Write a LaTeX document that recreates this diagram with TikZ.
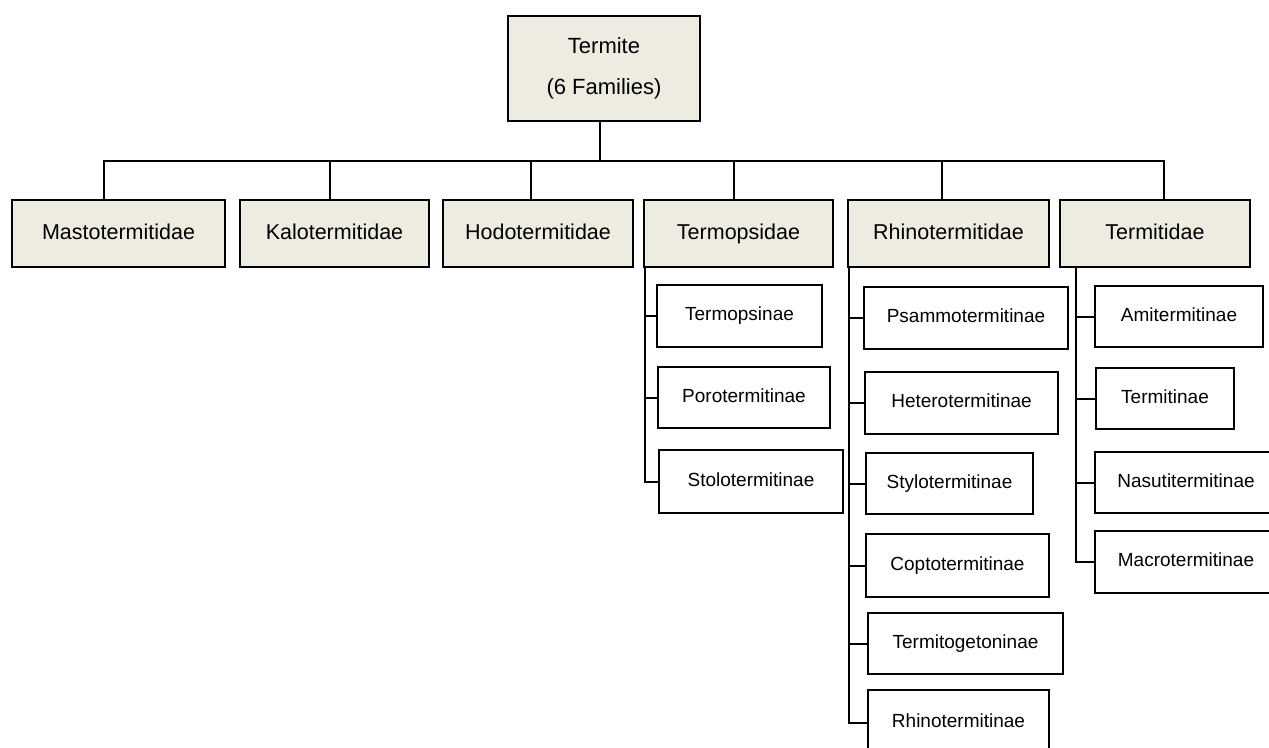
\documentclass[tikz,border=0pt]{standalone}
\usepackage{fontspec}
\setmainfont{Liberation Sans}
\usepackage{xcolor}
\usetikzlibrary{positioning}

\definecolor{famfill}{HTML}{EEECE1}

\begin{document}
\begin{tikzpicture}[
  x=1pt, y=-1pt,
  line width=2pt,
  fam/.style={draw, fill=famfill, anchor=north west, inner sep=0pt,
              text height=15.5pt, text depth=4.5pt,
              font=\fontsize{21.5}{26}\selectfont, minimum height=67pt},
  top/.style={draw, fill=famfill, anchor=north west, inner sep=0pt, align=center,
              font=\fontsize{22}{41}\selectfont, minimum width=192pt, minimum height=105pt},
  sub/.style={draw, fill=white, anchor=north west, inner sep=0pt,
              text height=13.5pt, text depth=4pt,
              font=\fontsize{19}{23}\selectfont, minimum height=62pt},
]
\useasboundingbox (0,0) rectangle (1269,747);
\clip (0,0) rectangle (1269,747);

% root and the six families
\node[top] (root) at (507,15) {Termite\\(6 Families)};
\node[fam, minimum width=213pt] (masto) at (11,199) {Mastotermitidae};
\node[fam, minimum width=189pt] (kalo) at (239,199) {Kalotermitidae};
\node[fam, minimum width=190pt] (hodo) at (442,199) {Hodotermitidae};
\node[fam, minimum width=189pt] (termops) at (643,199) {Termopsidae};
\node[fam, minimum width=201pt] (rhino) at (847,199) {Rhinotermitidae};
\node[fam, minimum width=190pt] (termit) at (1059,199) {Termitidae};

% subfamilies
\node[sub, minimum width=165pt] (termopsinae) at (656,284) {Termopsinae};
\node[sub, minimum width=172pt, minimum height=61pt] (poro) at (657,366) {Porotermitinae};
\node[sub, minimum width=184pt, minimum height=63pt] (stolo) at (658,449) {Stolotermitinae};

\node[sub, minimum width=204pt] (psammo) at (863,286) {Psammotermitinae};
\node[sub, minimum width=193pt] (hetero) at (864,371) {Heterotermitinae};
\node[sub, minimum width=167pt, minimum height=61pt] (stylo) at (865,452) {Stylotermitinae};
\node[sub, minimum width=183pt, minimum height=63pt] (copto) at (865,533) {Coptotermitinae};
\node[sub, minimum width=195pt, minimum height=61pt] (termitog) at (867,612) {Termitogetoninae};
\node[sub, minimum width=181pt, minimum height=66pt] (rhinot) at (867,689) {Rhinotermitinae};

\node[sub, minimum width=168pt, minimum height=61pt] (amit) at (1094,285) {Amitermitinae};
\node[sub, minimum width=138pt, minimum height=61pt] (termitinae) at (1095,367) {Termitinae};
\node[sub, minimum width=182pt, minimum height=61pt] (nasuti) at (1094,451) {Nasutitermitinae};
\node[sub, minimum width=182pt] (macro) at (1094,530) {Macrotermitinae};

% bus from the root
\coordinate (bus) at (600,161);
\draw ([xshift=-4pt]root.south) -- (bus);
\draw ([xshift=-15pt]masto.north) -- ([xshift=-15pt]masto.north |- bus)
  -- ([xshift=9pt]termit.north |- bus) -- ([xshift=9pt]termit.north);
\draw ([xshift=-5pt]kalo.north) -- ([xshift=-5pt]kalo.north |- bus);
\draw ([xshift=-7pt]hodo.north) -- ([xshift=-7pt]hodo.north |- bus);
\draw ([xshift=-5pt]termops.north) -- ([xshift=-5pt]termops.north |- bus);
\draw ([xshift=-7pt]rhino.north) -- ([xshift=-7pt]rhino.north |- bus);

% trunks down to the subfamilies
\coordinate (tp) at ([xshift=2pt]termops.south west);
\coordinate (rh) at ([xshift=2pt]rhino.south west);
\coordinate (tm) at ([xshift=17pt]termit.south west);
\draw (tp) |- (stolo.west);
\draw (termopsinae.west) -- (termopsinae.west -| tp);
\draw (poro.west) -- (poro.west -| tp);
\draw (rh) |- (rhinot.west);
\draw (psammo.west) -- (psammo.west -| rh);
\draw (hetero.west) -- (hetero.west -| rh);
\draw (stylo.west) -- (stylo.west -| rh);
\draw (copto.west) -- (copto.west -| rh);
\draw (termitog.west) -- (termitog.west -| rh);
\draw (tm) |- (macro.west);
\draw (amit.west) -- (amit.west -| tm);
\draw (termitinae.west) -- (termitinae.west -| tm);
\draw (nasuti.west) -- (nasuti.west -| tm);
\end{tikzpicture}
\end{document}
